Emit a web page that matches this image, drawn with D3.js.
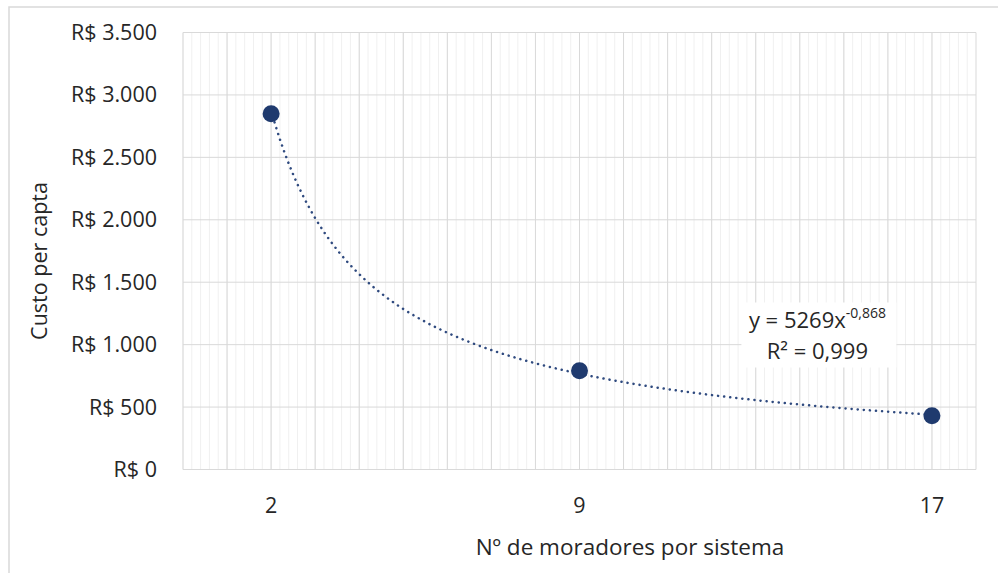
<!DOCTYPE html>
<html>
<head>
<meta charset="utf-8">
<script src="https://cdn.jsdelivr.net/npm/d3@7"></script>
<style>
  body { margin: 0; background: #fff; }
  text { font-family: "Open Sans", sans-serif; fill: #262626; }
</style>
</head>
<body>
<div id="chart"></div>
<script>
const moradores = [2, 9, 17];
const custo = [2850, 790, 430];
const yTicks = [0, 500, 1000, 1500, 2000, 2500, 3000, 3500];
const equationText = "y = 5269x";
const exponentText = "-0,868";
const r2Text = "R² = 0,999";

const width = 998;
const height = 573;
const margin = { top: 32.5, right: 22, bottom: 103.5, left: 183 };
const plotW = width - margin.left - margin.right;
const plotH = height - margin.top - margin.bottom;

const svg = d3.select("#chart")
    .append("svg")
    .attr("width", width)
    .attr("height", height);

// outer chart border (cut on right and bottom like the screenshot)
svg.append("rect")
    .attr("x", 9)
    .attr("y", 7)
    .attr("width", width + 20)
    .attr("height", height + 20)
    .attr("fill", "none")
    .attr("stroke", "#d9d9d9")
    .attr("stroke-width", 1.5);

const g = svg.append("g")
    .attr("transform", `translate(${margin.left},${margin.top})`);

const xScale = d3.scaleLinear().domain([0, 18]).range([0, plotW]);
const yScale = d3.scaleLinear().domain([0, 3500]).range([plotH, 0]);

// minor vertical gridlines
g.append("g")
    .selectAll("line")
    .data(d3.range(0, 90).map(i => i / 5))
    .enter()
    .append("line")
    .attr("x1", d => xScale(d))
    .attr("x2", d => xScale(d))
    .attr("y1", 0)
    .attr("y2", plotH)
    .attr("stroke", "#f0f0f0")
    .attr("stroke-width", 1);

// major vertical gridlines
g.append("g")
    .selectAll("line")
    .data(d3.range(0, 19))
    .enter()
    .append("line")
    .attr("x1", d => xScale(d))
    .attr("x2", d => xScale(d))
    .attr("y1", 0)
    .attr("y2", plotH)
    .attr("stroke", "#d9d9d9")
    .attr("stroke-width", 1);

// horizontal gridlines
g.append("g")
    .selectAll("line")
    .data(yTicks)
    .enter()
    .append("line")
    .attr("x1", 0)
    .attr("x2", plotW)
    .attr("y1", d => yScale(d))
    .attr("y2", d => yScale(d))
    .attr("stroke", "#d9d9d9")
    .attr("stroke-width", 1);

// y tick labels
const fmt = d3.formatLocale({ decimal: ",", thousands: ".", grouping: [3], currency: ["R$ ", ""] }).format("$,.0f");
g.append("g")
    .selectAll("text")
    .data(yTicks)
    .enter()
    .append("text")
    .attr("x", -26)
    .attr("y", d => yScale(d))
    .attr("dy", "0.35em")
    .attr("text-anchor", "end")
    .style("font-size", "21.5px")
    .text(d => fmt(d));

// x tick labels
g.append("g")
    .selectAll("text")
    .data(moradores)
    .enter()
    .append("text")
    .attr("x", d => xScale(d))
    .attr("y", plotH + 43)
    .attr("text-anchor", "middle")
    .style("font-size", "21.5px")
    .text(d => d);

// power trendline fitted from the points (least squares on logs)
const lx = moradores.map(Math.log);
const ly = custo.map(Math.log);
const mx = d3.mean(lx), my = d3.mean(ly);
const b = d3.sum(lx, (v, i) => (v - mx) * (ly[i] - my)) / d3.sum(lx, v => (v - mx) ** 2);
const a = Math.exp(my - b * mx);
const curveX = d3.range(2, 17.01, 0.1);

const line = d3.line()
    .x(d => xScale(d))
    .y(d => yScale(a * Math.pow(d, b)));

g.append("path")
    .datum(curveX)
    .attr("fill", "none")
    .attr("stroke", "#2f4a7f")
    .attr("stroke-width", 2.5)
    .attr("stroke-linecap", "round")
    .attr("stroke-dasharray", "0.1 6")
    .attr("d", line);

// points
g.selectAll("circle")
    .data(moradores)
    .enter()
    .append("circle")
    .attr("cx", d => xScale(d))
    .attr("cy", (d, i) => yScale(custo[i]))
    .attr("r", 8.5)
    .attr("fill", "#1f3a6e");

// equation label
const eqX = xScale(14.4);
g.append("rect")
    .attr("x", eqX - 76)
    .attr("y", 270)
    .attr("width", 155)
    .attr("height", 65)
    .attr("fill", "#fff");

const eq = g.append("text")
    .attr("x", eqX)
    .attr("y", 295)
    .attr("text-anchor", "middle")
    .style("font-size", "22px");
eq.append("tspan").text(equationText);
eq.append("tspan")
    .attr("dy", -10)
    .style("font-size", "14px")
    .text(exponentText);

g.append("text")
    .attr("x", eqX)
    .attr("y", 326)
    .attr("text-anchor", "middle")
    .style("font-size", "22px")
    .text(r2Text);

// axis titles
svg.append("text")
    .attr("x", 630)
    .attr("y", 555)
    .attr("text-anchor", "middle")
    .style("font-size", "22.5px")
    .text("Nº de moradores por sistema");

svg.append("text")
    .attr("transform", `translate(47,${261}) rotate(-90)`)
    .attr("text-anchor", "middle")
    .style("font-size", "21.5px")
    .text("Custo per capta");
</script>
</body>
</html>
